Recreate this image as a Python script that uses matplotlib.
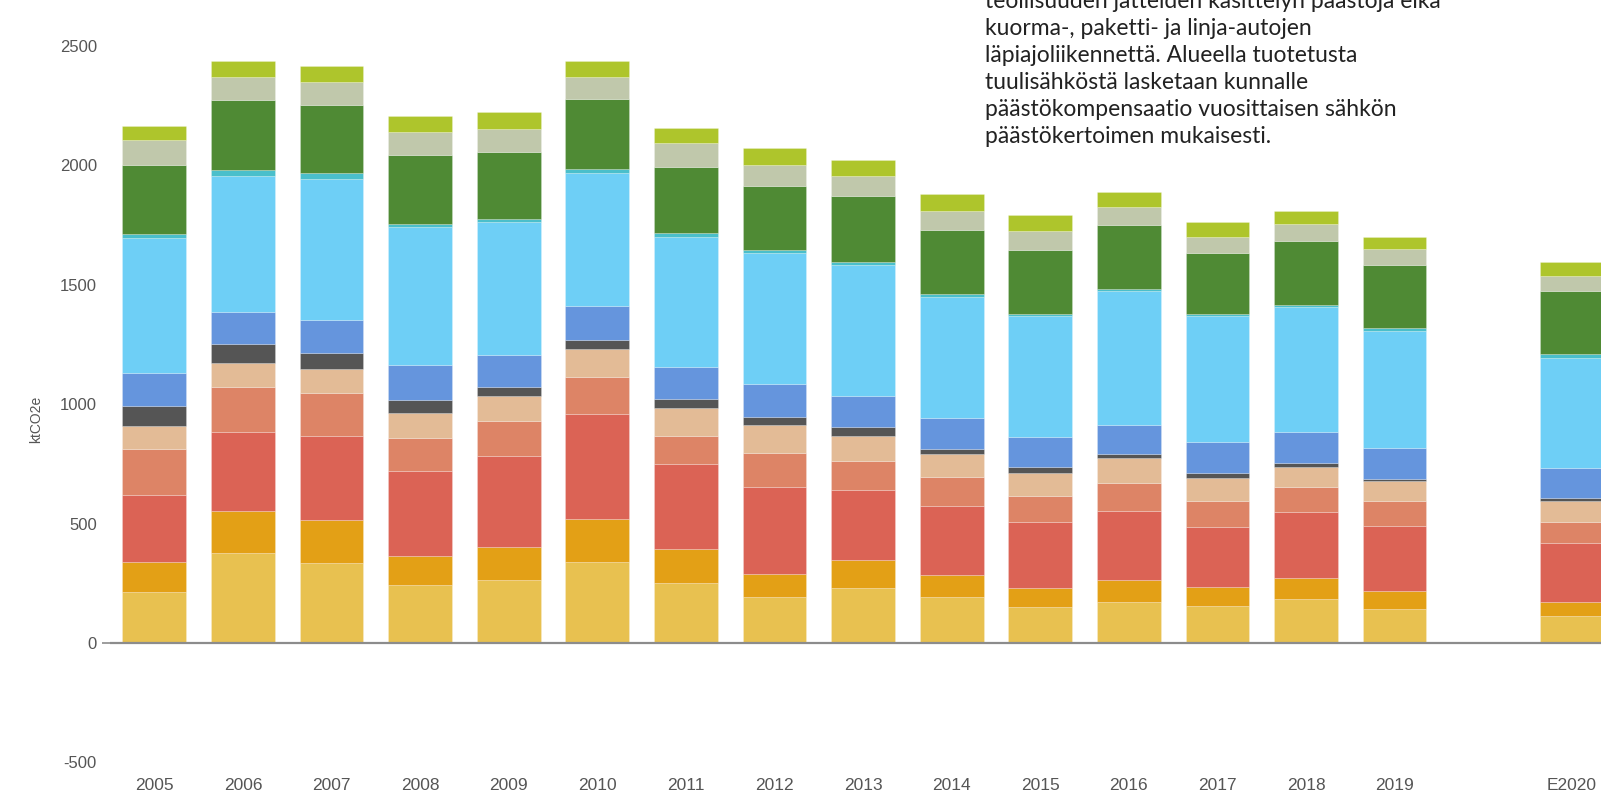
import numpy as np
import matplotlib.pyplot as plt

# Years shown on the x axis (gap left before the estimate bar)
years = ["2005", "2006", "2007", "2008", "2009", "2010", "2011", "2012",
         "2013", "2014", "2015", "2016", "2017", "2018", "2019", "E2020"]

# Emission sectors, ktCO2e, stacked from the bottom up
kaukolampo = [215, 376, 334, 244, 265, 338, 253, 193, 231, 192, 151, 172, 155, 184, 142, 113]
erillislammitys_oljy = [125, 177, 181, 120, 137, 180, 141, 98, 116, 93, 79, 92, 79, 88, 76, 59]
sahko_kulutus = [280, 329, 352, 355, 381, 441, 355, 364, 295, 288, 276, 288, 251, 276, 274, 246]
sahkolammitys = [192, 190, 179, 141, 146, 154, 120, 141, 120, 122, 109, 117, 109, 105, 102, 88]
maalampo = [97, 100, 103, 103, 107, 120, 116, 116, 107, 96, 96, 105, 96, 83, 84, 88]
teollisuus = [85, 80, 64, 56, 38, 38, 38, 34, 34, 21, 25, 17, 21, 17, 10, 13]
tyokoneet = [136, 135, 140, 145, 133, 142, 133, 137, 133, 129, 126, 121, 130, 130, 130, 125]
tieliikenne = [565, 570, 590, 578, 557, 556, 543, 552, 548, 510, 508, 561, 529, 525, 489, 460]
muu_liikenne = [16, 24, 26, 13, 13, 17, 18, 9, 13, 9, 8, 8, 8, 9, 13, 17]
maatalous = [292, 293, 284, 287, 278, 291, 278, 270, 274, 269, 270, 270, 257, 265, 263, 264]
jatehuolto = [103, 95, 98, 98, 98, 95, 98, 89, 85, 82, 77, 73, 65, 73, 67, 63]
f_kaasut = [60, 70, 67, 69, 69, 64, 65, 69, 69, 68, 69, 64, 64, 56, 50, 58]
# Wind power compensation (negative, barely visible below the baseline)
tuulisahko = [0, 0, 0, 0, 0, 0, 0, 0, 0, -3, -3, -3, -3, -6, -4, -4]

series = [kaukolampo, erillislammitys_oljy, sahko_kulutus, sahkolammitys, maalampo,
          teollisuus, tyokoneet, tieliikenne, muu_liikenne, maatalous, jatehuolto, f_kaasut]
colors = ["#E8C150", "#E3A016", "#DB6355", "#DD8466", "#E3BB96", "#555555",
          "#6595DD", "#6ECFF6", "#4ABFCB", "#4F8A34", "#C0C8AB", "#AEC52C"]

note = ("teollisuuden jätteiden käsittelyn päästöjä eikä\n"
        "kuorma-, paketti- ja linja-autojen\n"
        "läpiajoliikennettä. Alueella tuotetusta\n"
        "tuulisähköstä lasketaan kunnalle\n"
        "päästökompensaatio vuosittaisen sähkön\n"
        "päästökertoimen mukaisesti.")

# x positions: one empty slot between 2019 and E2020
x = np.array(list(range(15)) + [16])

fig = plt.figure(figsize=(16.01, 8.07), dpi=100)
ax = fig.add_axes([0.0687, 0.0434, 0.9313, 0.9566])

bottom = np.zeros(len(years))
for vals, col in zip(series, colors):
    ax.bar(x, vals, bottom=bottom, width=0.72, color=col,
           edgecolor=(1, 1, 1, 0.25), linewidth=0.6)
    bottom += np.array(vals)

ax.bar(x, tuulisahko, width=0.72, color="#5BA83A", linewidth=0)

# Baseline at zero
ax.axhline(0, color="#8C8C8C", linewidth=1.6, zorder=3)

ax.set_xlim(-0.5, 16.33)
ax.set_ylim(-540, 2693)

tick_font = ["Liberation Sans", "DejaVu Sans"]

ax.set_yticks([-500, 0, 500, 1000, 1500, 2000, 2500])
ax.set_yticklabels(["-500", "0", "500", "1000", "1500", "2000", "2500"],
                   family=tick_font)
ax.tick_params(axis="y", length=6, width=1.2, color="#8C8C8C", pad=3.5,
               labelsize=12, labelcolor="#555555")
# only the zero tick keeps its little dash
for tick in ax.yaxis.get_major_ticks():
    if tick.get_loc() != 0:
        tick.tick1line.set_visible(False)

ax.set_xticks(x)
ax.set_xticklabels(years, family=tick_font)
ax.tick_params(axis="x", length=0, pad=4, labelsize=12.5, labelcolor="#555555")

ax.set_ylabel("ktCO2e", fontsize=10, color="#555555", family=tick_font)
ax.yaxis.set_label_coords(-0.045, 0.457)

for s in ax.spines.values():
    s.set_visible(False)

# Explanation text, partly cut off at the top like in the original
fig.text(0.615, 1.011, note, fontsize=16.5, family=["Lato", "DejaVu Sans"],
         color="#222222", va="top", ha="left", linespacing=1.35)

fig.savefig("out.png", dpi=100)
